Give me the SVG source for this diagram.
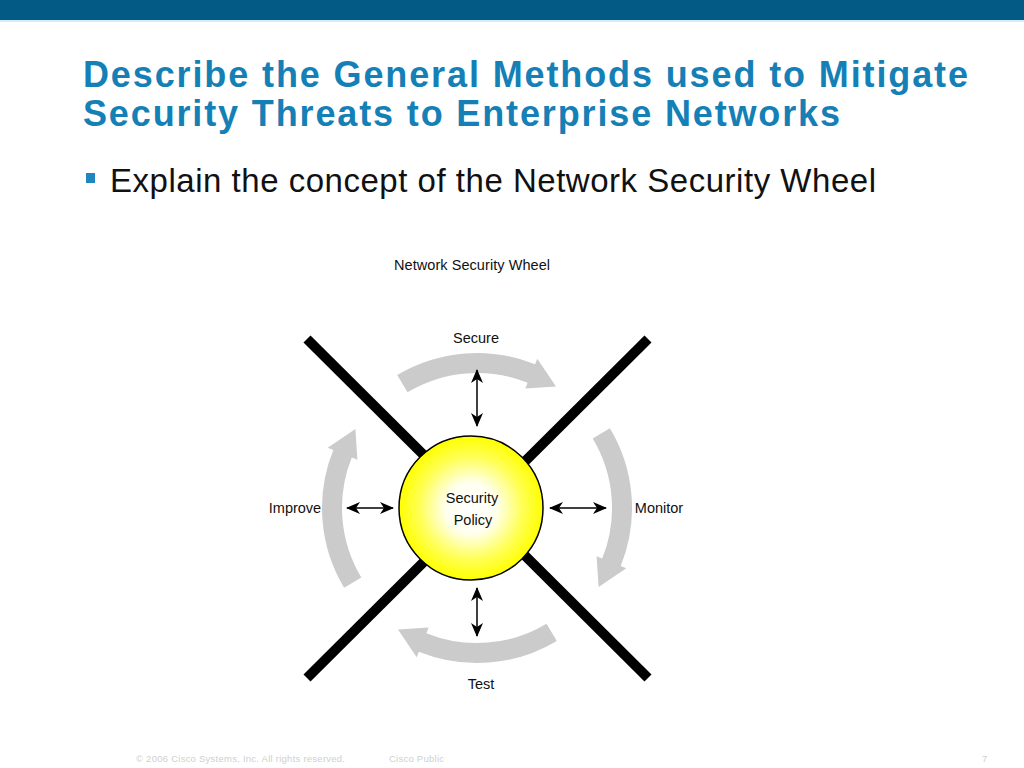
<svg xmlns="http://www.w3.org/2000/svg" width="1024" height="768" viewBox="0 0 1024 768">
  <style>
    .title { font-family: "Liberation Sans", Arial, sans-serif; font-weight: bold; font-size: 36px; fill: #1580b6; }
    .bullet { font-family: "Liberation Sans", Arial, sans-serif; font-size: 33px; fill: #111111; }
    .lbl { font-family: "Liberation Sans", Arial, sans-serif; font-size: 14.5px; fill: #111111; text-anchor: middle; }
    .foot { font-family: "Liberation Sans", Arial, sans-serif; font-size: 9.5px; fill: #cfcfcf; }
    .xline { stroke: #000000; stroke-width: 10; stroke-linecap: butt; }
    .dbl { stroke: #000000; stroke-width: 1.5; fill: none; marker-start: url(#ah); marker-end: url(#ah); }
    .cyc { fill: #cbcbcb; }
  </style>
  <defs>
    <radialGradient id="sun" cx="0.5" cy="0.5" r="0.5">
      <stop offset="0" stop-color="#ffffff"/>
      <stop offset="0.35" stop-color="#fffff0"/>
      <stop offset="0.72" stop-color="#ffff55"/>
      <stop offset="1" stop-color="#ffff00"/>
    </radialGradient>
    <marker id="ah" viewBox="0 0 14 12" refX="13" refY="6" markerWidth="14" markerHeight="12" markerUnits="userSpaceOnUse" orient="auto-start-reverse">
      <path d="M0,0 L14,6 L0,12 L4,6 Z" fill="#000000"/>
    </marker>
    <path id="arc" d="M-79.8,-132.9 A155,155 0 0 1 58.1,-143.7 L60.3,-149.3 L79.0,-121.6 L48.3,-119.6 L50.6,-125.2 A135,135 0 0 0 -69.5,-115.7 Z"/>
  </defs>

  <rect x="0" y="0" width="1024" height="768" fill="#ffffff"/>
  <rect x="0" y="0" width="1024" height="20" fill="#035b85"/>
  <rect x="0" y="20" width="1024" height="2" fill="#d4edf7"/>

  <text class="title" x="83" y="87" textLength="885">Describe the General Methods used to Mitigate</text>
  <text class="title" x="83" y="126" textLength="757">Security Threats to Enterprise Networks</text>
  <rect x="86" y="173" width="9" height="10" fill="#1f86bf"/>
  <text class="bullet" x="110" y="192" textLength="766">Explain the concept of the Network Security Wheel</text>

  <text class="lbl" x="472" y="270" font-size="13.5" textLength="156">Network Security Wheel</text>

  <g id="cross">
    <line class="xline" x1="307" y1="339" x2="648" y2="678"/>
    <line class="xline" x1="648" y1="339" x2="307" y2="678"/>
  </g>

  <g id="connectors">
    <use href="#arc" class="cyc" transform="translate(477,508)"/>
    <use href="#arc" class="cyc" transform="translate(477,508) rotate(90)"/>
    <use href="#arc" class="cyc" transform="translate(477,508) rotate(180)"/>
    <use href="#arc" class="cyc" transform="translate(477,508) rotate(270)"/>
    <line class="dbl" x1="477" y1="370" x2="477" y2="426"/>
    <line class="dbl" x1="477" y1="588" x2="477" y2="636"/>
    <line class="dbl" x1="347" y1="508" x2="393" y2="508"/>
    <line class="dbl" x1="550" y1="508" x2="606" y2="508"/>
  </g>

  <g id="policy">
    <circle cx="471" cy="508" r="72" fill="url(#sun)" stroke="#000000" stroke-width="1.5"/>
    <text class="lbl" x="472" y="503">Security</text>
    <text class="lbl" x="473" y="525">Policy</text>
  </g>
  <g id="secure"><text class="lbl" x="476" y="343">Secure</text></g>
  <g id="monitor"><text class="lbl" x="659" y="513">Monitor</text></g>
  <g id="test"><text class="lbl" x="481" y="689">Test</text></g>
  <g id="improve"><text class="lbl" x="295" y="513">Improve</text></g>

  <text class="foot" x="136" y="762" textLength="209">© 2006 Cisco Systems, Inc. All rights reserved.</text>
  <text class="foot" x="389" y="762" textLength="55">Cisco Public</text>
  <text class="foot" x="982" y="762" font-size="15">7</text>
</svg>
